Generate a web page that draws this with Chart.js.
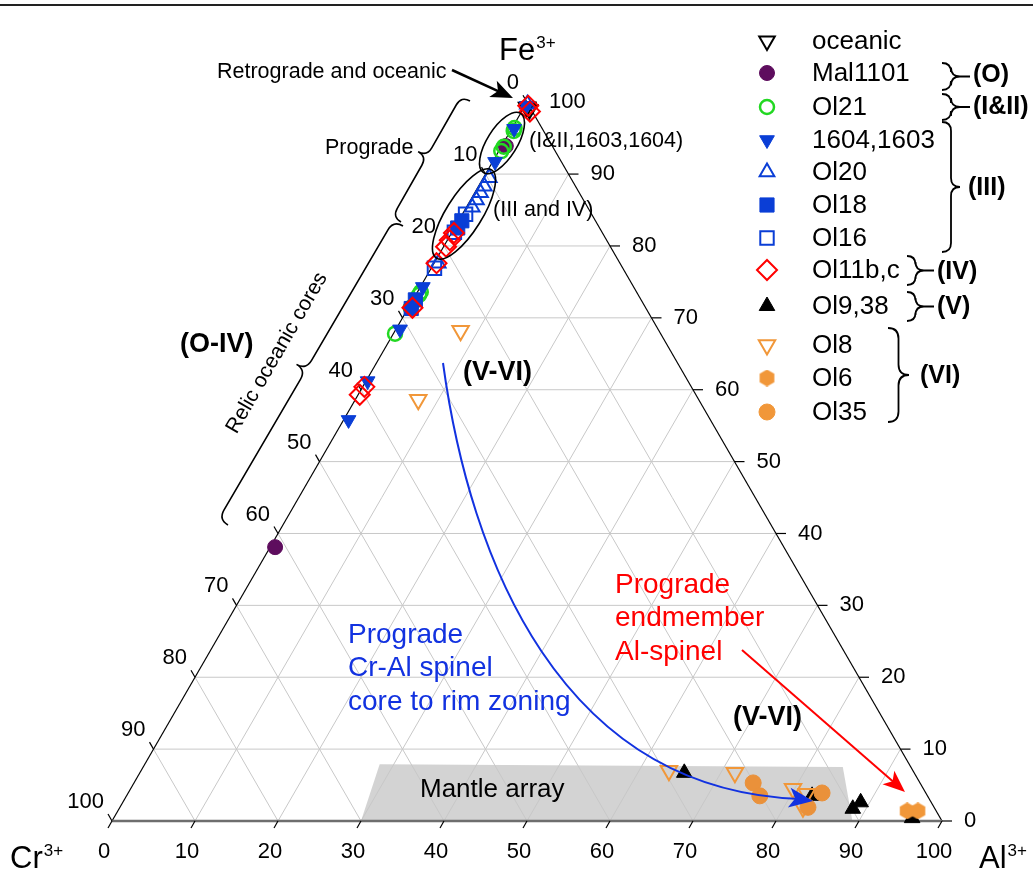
<!DOCTYPE html>
<html>
<head>
<meta charset="utf-8">
<script src="https://cdn.jsdelivr.net/npm/chart.js@4.4.0/dist/chart.umd.min.js"></script>
<style>
  body { margin: 0; background: #fff; }
  canvas { display: block; }
</style>
</head>
<body>
<canvas id="ternary" width="1033" height="872"></canvas>
<script>
// every point is [Cr, Al, Fe] in % of the trivalent cations
const oceanic = [[0.4, 0.3, 99.3], [0.2, 0.8, 99.0]];
const mal1101 = [[5.6, 0.5, 93.9], [61.3, 0.6, 38.1]];
const ol21 = [[3.3, 0.3, 96.4], [3.6, 0.4, 96.0], [5.9, 0.3, 93.8], [6.5, 0.3, 93.2],
              [26.4, 0.4, 73.2], [26.0, 0.4, 73.6], [28.3, 0.3, 71.4], [32.0, 0.2, 67.8]];
const s1604 = [[0.3, 0.2, 99.5], [3.4, 0.3, 96.3], [8.0, 0.3, 91.7], [25.4, 0.3, 74.3],
               [31.1, 0.5, 68.4], [38.6, 0.2, 61.2], [43.6, 0.6, 55.8]];
const ol20 = [[0.1, 0.2, 99.7], [9.8, 0.7, 89.5], [11.0, 0.7, 88.3], [11.9, 0.7, 87.4],
              [12.9, 0.7, 86.4], [13.9, 0.7, 85.4], [21.9, 0.5, 77.6]];
const ol18 = [[16.1, 0.4, 83.5], [17.1, 0.4, 82.5], [27.2, 0.3, 72.5], [28.3, 0.4, 71.3]];
const ol16 = [[15.2, 0.4, 84.4], [17.8, 0.3, 81.9], [22.7, 0.4, 76.9]];
const ol11 = [[0.1, 0.4, 99.5], [0.3, 1.0, 98.7], [17.9, 0.3, 81.8], [18.9, 0.3, 80.8],
              [19.8, 0.3, 79.9], [22.1, 0.3, 77.6], [28.1, 0.5, 71.4], [39.4, 0.2, 60.4], [40.5, 0.2, 59.3]];
const ol9 = [[27.7, 65.6, 6.7], [9.9, 88.4, 1.7], [8.5, 88.9, 2.6], [3.4, 96.2, 0.4], [13.9, 82.6, 3.5]];
const ol8 = [[23.9, 7.9, 68.2], [33.8, 7.6, 58.6], [29.4, 63.6, 7.0], [21.6, 71.7, 6.7],
             [15.7, 79.8, 4.5], [14.4, 81.8, 3.8], [15.8, 82.3, 1.9]];
const ol6 = [[3.5, 95.1, 1.4], [2.2, 96.4, 1.4]];
const ol35 = [[20.1, 74.6, 5.3], [20.2, 76.3, 3.5], [12.5, 83.6, 3.9], [15.2, 82.9, 1.9]];

const mantleArray = [[70, 30, 0], [63.8, 28.3, 7.9], [8.2, 84.3, 7.5], [10.8, 89.2, 0]];
const axisTicks = [0, 10, 20, 30, 40, 50, 60, 70, 80, 90, 100];
const gridSteps = [10, 20, 30, 40, 50, 60, 70, 80, 90];

const FONT = '"Liberation Sans", Arial, sans-serif';
const BLUE = '#0a3ed6';
const ORANGE = '#f19739';

function hexagon(size, color) {
    const c = document.createElement('canvas');
    c.width = size; c.height = size;
    const g = c.getContext('2d');
    const r = size / 2;
    g.beginPath();
    for (let k = 0; k < 6; k++) {
        const a = -Math.PI / 2 + k * Math.PI / 3;
        g.lineTo(r + r * Math.cos(a), r + r * Math.sin(a));
    }
    g.closePath();
    g.fillStyle = color;
    g.fill();
    return c;
}

const series = [
    { label: 'oceanic',   data: oceanic, style: 'triangle', rot: 180, r: 9,   fill: 'rgba(0,0,0,0)', line: '#000', w: 2 },
    { label: 'Mal1101',   data: mal1101, style: 'circle',   rot: 0,   r: 7.5, fill: '#5e0d5e', line: '#5e0d5e', w: 1 },
    { label: 'Ol21',      data: ol21,    style: 'circle',   rot: 0,   r: 7,   fill: 'rgba(0,0,0,0)', line: '#22d822', w: 2.5 },
    { label: '1604,1603', data: s1604,   style: 'triangle', rot: 180, r: 8.5, fill: BLUE, line: BLUE, w: 1 },
    { label: 'Ol20',      data: ol20,    style: 'triangle', rot: 0,   r: 8.5, fill: 'rgba(0,0,0,0)', line: BLUE, w: 2 },
    { label: 'Ol18',      data: ol18,    style: 'rect',     rot: 0,   r: 10,  fill: BLUE, line: BLUE, w: 1 },
    { label: 'Ol16',      data: ol16,    style: 'rect',     rot: 0,   r: 9.5, fill: 'rgba(0,0,0,0)', line: BLUE, w: 2 },
    { label: 'Ol11b,c',   data: ol11,    style: 'rectRot',  rot: 0,   r: 10,  fill: 'rgba(0,0,0,0)', line: '#ff0000', w: 2 },
    { label: 'Ol9,38',    data: ol9,     style: 'triangle', rot: 0,   r: 9,   fill: '#000', line: '#000', w: 1 },
    { label: 'Ol8',       data: ol8,     style: 'triangle', rot: 180, r: 9.5, fill: 'rgba(0,0,0,0)', line: ORANGE, w: 2 },
    { label: 'Ol6',       data: ol6,     style: hexagon(17, ORANGE), rot: 0, r: 8, fill: ORANGE, line: ORANGE, w: 0 },
    { label: 'Ol35',      data: ol35,    style: 'circle',   rot: 0,   r: 8,   fill: '#ea913a', line: '#ea913a', w: 1 }
];
const legendRows = [41, 73, 107, 140, 172, 205, 238, 270, 306, 345, 378, 412];

// ternary -> cartesian (Cr corner at origin, Al corner at x = 100)
function toXY(p) {
    return { x: p[1] + p[2] / 2, y: p[2] * Math.sqrt(3) / 2 };
}

// layout: 8.3 px per unit, Cr corner at pixel (112, 821)
const PX = 8.3, X0 = 112, Y0 = 821, W = 1033, H = 872;

function ternPx(chart) {
    const sx = chart.scales.x, sy = chart.scales.y;
    return p => {
        const c = toXY(p);
        return { x: sx.getPixelForValue(c.x), y: sy.getPixelForValue(c.y) };
    };
}

function txt(ctx, s, x, y, size, o = {}) {
    ctx.save();
    ctx.font = (o.bold ? 'bold ' : '') + size + 'px ' + FONT;
    ctx.fillStyle = o.color || '#000';
    ctx.textAlign = o.align || 'left';
    ctx.textBaseline = o.baseline || 'middle';
    ctx.fillText(s, x, y);
    ctx.restore();
}

function cornerLabel(ctx, base, x, y) {
    ctx.save();
    ctx.font = '31px ' + FONT;
    ctx.fillStyle = '#000';
    ctx.textBaseline = 'alphabetic';
    ctx.fillText(base, x, y);
    const w = ctx.measureText(base).width;
    ctx.font = '17px ' + FONT;
    ctx.fillText('3+', x + w + 1, y - 12);
    ctx.restore();
}

function line(ctx, a, b) {
    ctx.beginPath();
    ctx.moveTo(a.x, a.y);
    ctx.lineTo(b.x, b.y);
    ctx.stroke();
}

function arrowHead(ctx, tip, dx, dy, len, half) {
    const d = Math.hypot(dx, dy), ux = dx / d, uy = dy / d;
    ctx.beginPath();
    ctx.moveTo(tip.x, tip.y);
    ctx.lineTo(tip.x - ux * len - uy * half, tip.y - uy * len + ux * half);
    ctx.lineTo(tip.x - ux * len * 0.75, tip.y - uy * len * 0.75);
    ctx.lineTo(tip.x - ux * len + uy * half, tip.y - uy * len - ux * half);
    ctx.closePath();
    ctx.fill();
}

function arrow(ctx, a, b, color, lw) {
    ctx.save();
    ctx.strokeStyle = color; ctx.fillStyle = color; ctx.lineWidth = lw;
    const dx = b.x - a.x, dy = b.y - a.y, d = Math.hypot(dx, dy);
    line(ctx, a, { x: b.x - dx / d * 14, y: b.y - dy / d * 14 });
    arrowHead(ctx, b, dx, dy, 22, 9);
    ctx.restore();
}

// curly brace between two tips, cusp on the left of a->b (negative depth flips it)
function brace(ctx, ax, ay, bx, by, depth, tail) {
    const dx = bx - ax, dy = by - ay, L = Math.hypot(dx, dy);
    const ux = dx / L, uy = dy / L, nx = -uy, ny = ux;
    const P = (s, t) => [ax + ux * s + nx * t, ay + uy * s + ny * t];
    const h = depth / 2, w = Math.abs(h);
    ctx.beginPath();
    ctx.moveTo(...P(0, 0));
    ctx.quadraticCurveTo(...P(0, h), ...P(w, h));
    ctx.lineTo(...P(L / 2 - w, h));
    ctx.quadraticCurveTo(...P(L / 2, h), ...P(L / 2, 2 * h));
    ctx.quadraticCurveTo(...P(L / 2, h), ...P(L / 2 + w, h));
    ctx.lineTo(...P(L - w, h));
    ctx.quadraticCurveTo(...P(L, h), ...P(L, 0));
    if (tail) {
        ctx.moveTo(...P(L / 2, 2 * h));
        ctx.lineTo(...P(L / 2, 2 * h + Math.sign(depth) * tail));
    }
    ctx.stroke();
}

const ternaryFrame = {
    id: 'ternaryFrame',
    beforeDatasetsDraw(chart) {
        const ctx = chart.ctx;
        const P = ternPx(chart);
        ctx.save();
        ctx.strokeStyle = '#222';
        ctx.lineWidth = 2;
        line(ctx, { x: 0, y: 5 }, { x: chart.width, y: 5 });

        ctx.fillStyle = '#d3d3d3';
        ctx.beginPath();
        mantleArray.forEach((p, i) => {
            const q = P(p);
            if (i) ctx.lineTo(q.x, q.y); else ctx.moveTo(q.x, q.y);
        });
        ctx.closePath();
        ctx.fill();

        ctx.strokeStyle = '#c8c8c8';
        ctx.lineWidth = 1;
        gridSteps.forEach(v => {
            line(ctx, P([100 - v, v, 0]), P([0, v, 100 - v]));
            line(ctx, P([100 - v, 0, v]), P([0, 100 - v, v]));
            line(ctx, P([v, 100 - v, 0]), P([v, 0, 100 - v]));
        });

        const cr = P([100, 0, 0]), al = P([0, 100, 0]), fe = P([0, 0, 100]);
        ctx.strokeStyle = '#000';
        ctx.lineWidth = 1.2;
        line(ctx, cr, fe);
        line(ctx, al, fe);
        ctx.strokeStyle = '#6e6e6e';
        ctx.lineWidth = 2.5;
        line(ctx, cr, al);

        ctx.strokeStyle = '#000';
        ctx.lineWidth = 1.2;
        axisTicks.forEach(v => {
            const b = P([100 - v, v, 0]);
            line(ctx, b, { x: b.x - 4, y: b.y + 7 });
            txt(ctx, String(v), b.x - 8, b.y + 31, 22, { align: 'center' });
            const r = P([0, 100 - v, v]);
            line(ctx, r, { x: r.x + 10, y: r.y });
            txt(ctx, String(v), r.x + 22, r.y, 22);
            const l = P([v, 0, 100 - v]);
            line(ctx, l, { x: l.x - 4, y: l.y - 7 });
            txt(ctx, String(v), l.x - 8, l.y - 19, 22, { align: 'right' });
        });

        cornerLabel(ctx, 'Fe', fe.x - 28, fe.y - 42);
        cornerLabel(ctx, 'Cr', 10, 868);
        cornerLabel(ctx, 'Al', 979, 868);
        ctx.restore();
    },
    afterDatasetsDraw(chart) {
        const ctx = chart.ctx;
        ctx.save();
        ctx.strokeStyle = '#000';
        ctx.lineWidth = 1.6;
        ctx.beginPath();
        ctx.ellipse(502, 143, 35, 15, -58 * Math.PI / 180, 0, 2 * Math.PI);
        ctx.stroke();
        ctx.beginPath();
        ctx.ellipse(464, 214, 52, 18, -58 * Math.PI / 180, 0, 2 * Math.PI);
        ctx.stroke();

        arrow(ctx, { x: 452, y: 70 }, { x: 513, y: 98 }, '#000', 2.5);
        txt(ctx, 'Retrograde and oceanic', 217, 72, 21.5);
        txt(ctx, 'Prograde', 325, 148, 21.5);
        txt(ctx, '(I&II,1603,1604)', 529, 141, 21.5);
        txt(ctx, '(III and IV)', 493, 210, 21.5);

        ctx.lineWidth = 1.6;
        brace(ctx, 470, 101, 401, 222, 20);
        brace(ctx, 403, 226, 228, 525, 22);
        ctx.save();
        ctx.translate(277, 353);
        ctx.rotate(-Math.PI / 3);
        txt(ctx, 'Relic oceanic cores', 0, 0, 21, { align: 'center' });
        ctx.restore();
        txt(ctx, '(O-IV)', 180, 345, 27, { bold: true });
        txt(ctx, '(V-VI)', 463, 373, 27, { bold: true });
        txt(ctx, '(V-VI)', 733, 718, 27, { bold: true });
        txt(ctx, 'Mantle array', 420, 790, 26);

        // prograde zoning path
        ctx.strokeStyle = '#1232e0';
        ctx.fillStyle = '#1232e0';
        ctx.lineWidth = 2;
        ctx.beginPath();
        ctx.moveTo(443, 363);
        ctx.bezierCurveTo(470, 560, 560, 790, 800, 799);
        ctx.stroke();
        arrowHead(ctx, { x: 813, y: 801 }, 70, 10, 24, 10);
        ['Prograde', 'Cr-Al spinel', 'core to rim zoning'].forEach((s, i) =>
            txt(ctx, s, 348, 635 + i * 33.5, 28, { color: '#1232e0' }));

        arrow(ctx, { x: 742, y: 650 }, { x: 905, y: 792 }, '#ff0000', 2);
        ['Prograde', 'endmember', 'Al-spinel'].forEach((s, i) =>
            txt(ctx, s, 615, 585 + i * 33.5, 28, { color: '#ff0000' }));

        // legend
        series.forEach((s, i) => {
            const y = legendRows[i];
            ctx.save();
            ctx.fillStyle = s.label === 'Ol35' ? ORANGE : s.fill;
            ctx.strokeStyle = s.label === 'Ol35' ? ORANGE : s.line;
            ctx.lineWidth = s.w;
            Chart.helpers.drawPoint(ctx, { pointStyle: s.style, radius: s.r, rotation: s.rot, borderWidth: s.w }, 767, y);
            ctx.restore();
            txt(ctx, s.label, 812, y + 1, 26);
        });
        ctx.strokeStyle = '#000';
        ctx.lineWidth = 1.8;
        brace(ctx, 942, 63, 942, 90, -18, 10);
        txt(ctx, '(O)', 973, 75, 25, { bold: true });
        brace(ctx, 942, 94, 942, 120, -18, 10);
        txt(ctx, '(I&II)', 973, 107, 25, { bold: true });
        brace(ctx, 942, 122, 942, 252, -18, 0);
        txt(ctx, '(III)', 968, 188, 25, { bold: true });
        brace(ctx, 907, 256, 907, 285, -17, 10);
        txt(ctx, '(IV)', 937, 272, 25, { bold: true });
        brace(ctx, 907, 292, 907, 321, -17, 10);
        txt(ctx, '(V)', 937, 307, 25, { bold: true });
        brace(ctx, 888, 328, 888, 422, -21, 0);
        txt(ctx, '(VI)', 920, 376, 25, { bold: true });
        ctx.restore();
    }
};

const datasets = series.map((s, i) => ({
    label: s.label,
    data: s.data.map(toXY),
    order: series.length - i,
    pointStyle: s.style,
    pointRotation: s.rot,
    pointRadius: s.r,
    pointHoverRadius: s.r,
    pointBackgroundColor: s.fill,
    pointBorderColor: s.line,
    pointBorderWidth: s.w
}));

new Chart(document.getElementById('ternary'), {
    type: 'scatter',
    data: { datasets: datasets },
    options: {
        responsive: false,
        animation: false,
        events: [],
        layout: { padding: 0, autoPadding: false },
        scales: {
            x: { type: 'linear', display: false, min: -X0 / PX, max: (W - X0) / PX },
            y: { type: 'linear', display: false, min: -(H - Y0) / PX, max: Y0 / PX }
        },
        plugins: {
            legend: { display: false },
            tooltip: { enabled: false }
        }
    },
    plugins: [ternaryFrame]
});
</script>
</body>
</html>
